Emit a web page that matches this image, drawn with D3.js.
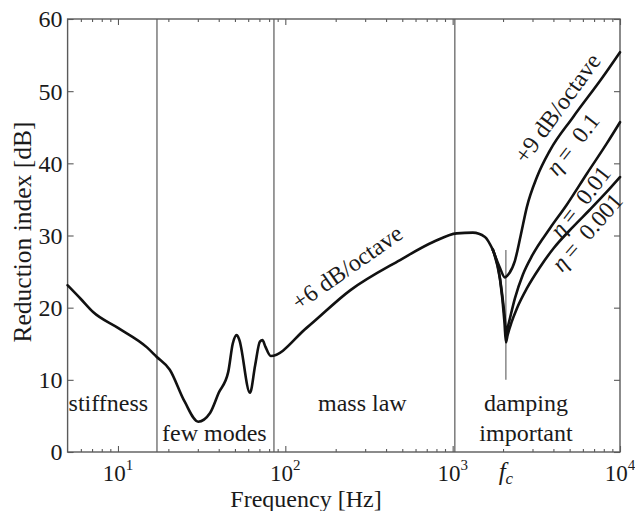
<!DOCTYPE html>
<html>
<head>
<meta charset="utf-8">
<script src="https://cdn.jsdelivr.net/npm/d3@7"></script>
<style>
  body { margin: 0; background: #fff; }
  text { font-family: "Liberation Serif", "Times New Roman", serif; fill: #1a1a1a; }
</style>
</head>
<body>
<svg id="chart" width="635" height="511"></svg>
<script>
// Sound reduction index of a single panel: [frequency Hz, R dB]
const baseCurve = [
  [5, 23.1], [6, 21.2], [7.1, 19.4], [10, 17.2], [14.9, 14.5], [17, 13.2],
  [20.4, 11.4], [25, 7.0], [30.2, 4.2], [35.5, 5.4], [40, 8.2], [45.6, 11.1],
  [48.5, 15.0], [51.2, 16.2], [53, 15.6], [61.5, 8.2], [66, 12.0], [70.5, 15.3],
  [73, 15.5], [76, 14.6], [81.8, 13.3], [134, 17.2], [244, 22.4], [485, 26.6],
  [764, 29.1], [1058, 30.3], [1320, 30.4], [1560, 29.8], [1740, 28.0]
];
// Coincidence region for three loss factors
const etaHigh = [
  [1740, 28.0], [1918, 25.5], [2050, 24.2], [2150, 24.6], [2355, 26.5], [2550, 30.0],
  [2780, 34.0], [3190, 38.1], [3817, 41.8], [5240, 46.4], [7910, 52.0], [10000, 55.4]
];
const etaMid = [
  [1740, 28.0], [1918, 24.0], [2040, 19.0], [2090, 16.5], [2150, 17.6], [2355, 21.3],
  [2630, 24.6], [3000, 27.3], [3817, 31.0], [4820, 34.3], [6350, 38.6], [8360, 42.8], [10000, 45.7]
];
const etaLow = [
  [1740, 28.0], [1918, 24.0], [2040, 18.0], [2080, 15.2], [2130, 16.2], [2250, 18.0],
  [2420, 19.9], [2780, 22.7], [3300, 25.5], [4000, 28.2], [5240, 31.2], [6620, 33.6],
  [8300, 36.0], [10000, 38.1]
];
const etaLabels = ["= 0.1", "= 0.01", "= 0.001"];

const regionBounds = [17.1, 85.5, 1030];
const regionNames = ["stiffness", "few modes", "mass law", "damping", "important"];
const slopeLabels = ["+6 dB/octave", "+9 dB/octave"];
const fc = 2080;
const fcSpan = [10, 28];

const yTicks = [0, 10, 20, 30, 40, 50, 60];
const xDecades = [10, 100, 1000, 10000];
const xExponents = ["1", "2", "3", "4"];
const xMinor = [6, 7, 8, 9, 20, 30, 40, 50, 60, 70, 80, 90,
  200, 300, 400, 500, 600, 700, 800, 900, 2000, 3000, 4000, 5000, 6000, 7000, 8000, 9000];

const svg = d3.select("#chart");
const L = 67.6, R = 620, T = 19, B = 452;
const x = d3.scaleLog().domain([5, 10000]).range([L, R]);
const y = d3.scaleLinear().domain([0, 60]).range([B, T]);

const frameColor = "#5a5a5a";

// ticks: inward on all four sides
function tickGroup(axisFn, minorVals, majorVals, translate) {
  const g = svg.append("g").attr("transform", translate);
  g.call(axisFn.tickValues(majorVals).tickSize(6).tickFormat(""));
  const g2 = svg.append("g").attr("transform", translate);
  if (minorVals) g2.call(axisFn.tickValues(minorVals).tickSize(3).tickFormat(""));
  [g, g2].forEach(s => {
    s.select(".domain").remove();
    s.selectAll("line").attr("stroke", frameColor).attr("stroke-width", 1.1);
  });
}
tickGroup(d3.axisTop(x), xMinor, xDecades, `translate(0,${B})`);
tickGroup(d3.axisBottom(x), xMinor, xDecades, `translate(0,${T})`);
tickGroup(d3.axisRight(y), null, yTicks, `translate(${L},0)`);
tickGroup(d3.axisLeft(y), null, yTicks, `translate(${R},0)`);

// region separators
svg.append("g").selectAll("line").data(regionBounds).join("line")
  .attr("x1", d => x(d)).attr("x2", d => x(d))
  .attr("y1", y(0)).attr("y2", y(60))
  .attr("stroke", "#7a7a7a").attr("stroke-width", 1.5);

// coincidence frequency marker
svg.append("line")
  .attr("x1", x(fc)).attr("x2", x(fc))
  .attr("y1", y(fcSpan[0])).attr("y2", y(fcSpan[1]))
  .attr("stroke", "#6a6a6a").attr("stroke-width", 1.2);

// frame
svg.append("rect").attr("x", L).attr("y", T).attr("width", R - L).attr("height", B - T)
  .attr("fill", "none").attr("stroke", frameColor).attr("stroke-width", 1.4);

// curves
const line = d3.line().x(d => x(d[0])).y(d => y(d[1])).curve(d3.curveMonotoneX);
[etaLow, etaMid, etaHigh, baseCurve].forEach(data => {
  svg.append("path").datum(data).attr("d", line)
    .attr("fill", "none").attr("stroke", "#111").attr("stroke-width", 2.6)
    .attr("stroke-linejoin", "round").attr("stroke-linecap", "round");
});

// y tick labels
svg.append("g").selectAll("text").data(yTicks).join("text")
  .attr("x", L - 5).attr("y", d => y(d)).attr("dy", "0.35em")
  .attr("text-anchor", "end").attr("font-size", 24).text(d => d);

// x tick labels with exponents
xDecades.forEach((d, i) => {
  const t = svg.append("text").attr("x", x(d)).attr("y", 481)
    .attr("text-anchor", "middle").attr("font-size", 23);
  t.append("tspan").text("10");
  t.append("tspan").attr("font-size", 15).attr("dy", -11).text(xExponents[i]);
});

// f_c label
const fcText = svg.append("text").attr("x", x(fc)).attr("y", 480)
  .attr("text-anchor", "middle").attr("font-size", 25).attr("font-style", "italic");
fcText.append("tspan").text("f");
fcText.append("tspan").attr("font-size", 17).attr("dy", 4).text("c");

// axis titles
svg.append("text").attr("x", 306).attr("y", 507)
  .attr("text-anchor", "middle").attr("font-size", 24).text("Frequency [Hz]");
svg.append("text").attr("transform", `translate(31,232) rotate(-90)`)
  .attr("text-anchor", "middle").attr("font-size", 25.5).text("Reduction index [dB]");

// region names
const rn = svg.append("g").attr("font-size", 24);
rn.append("text").attr("x", L + 1).attr("y", 411).text(regionNames[0]);
rn.append("text").attr("x", 162).attr("y", 441).text(regionNames[1]);
rn.append("text").attr("x", 318).attr("y", 411).text(regionNames[2]);
rn.append("text").attr("x", 526).attr("y", 411).attr("text-anchor", "middle").text(regionNames[3]);
rn.append("text").attr("x", 526).attr("y", 441).attr("text-anchor", "middle").text(regionNames[4]);

// slope annotations
svg.append("text").attr("transform", "translate(299,311) rotate(-35)")
  .attr("font-size", 24).text(slopeLabels[0]);
svg.append("text").attr("transform", "translate(526,165) rotate(-54)")
  .attr("font-size", 24).text(slopeLabels[1]);

// loss factor labels, each set just below its own curve
const etaPos = [[557, 177, -52], [561, 239, -52], [562, 273, -49]];
etaLabels.forEach((lab, i) => {
  const t = svg.append("text")
    .attr("transform", `translate(${etaPos[i][0]},${etaPos[i][1]}) rotate(${etaPos[i][2]})`)
    .attr("font-size", 23.5).attr("xml:space", "preserve");
  t.append("tspan").attr("font-style", "italic").text("η");
  t.append("tspan").attr("dx", 5).text(lab.replace("= ", "=  "));
});
</script>
</body>
</html>
